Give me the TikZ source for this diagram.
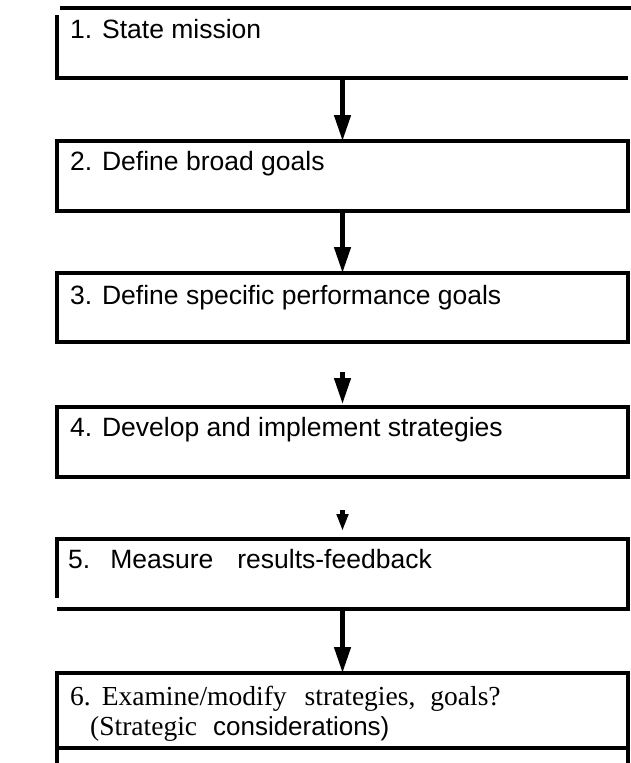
\documentclass[tikz,border=0pt]{standalone}
\usepackage{fontspec}
\setmainfont{Liberation Serif}
\setsansfont{Liberation Sans}
\usetikzlibrary{arrows.meta, positioning}

\tikzset{
    stage/.style = {rectangle, draw, line width=4pt, minimum width=571pt, minimum height=70pt, inner sep=0pt, outer sep=0pt},
    boxline/.style = {line width=4pt},
    stagetext/.style = {anchor=base west, inner sep=0pt, font=\sffamily\fontsize{26.5}{30}\selectfont},
    flow/.style = {line width=4.5pt, -{Triangle[length=26pt, width=16pt]}},
    shortflow/.style = {line width=4.5pt, -{Triangle[length=17pt, width=11pt]}}
}

\begin{document}
\begin{tikzpicture}[x=1pt, y=-1pt]
            \useasboundingbox (0,0) rectangle (631,763);

            \node (s1) [stage, draw=none, anchor=north west] at (57,8) {};
            \node (s2) [stage, below=63pt of s1] {};
            \node (s3) [stage, below=62pt of s2, minimum height=69pt] {};
            \node (s4) [stage, below=65pt of s3] {};
            \node (s5) [stage, draw=none, below=62pt of s4] {};
            \node (s6) [stage, below=64pt of s5, minimum height=75pt] {};

            \draw [boxline] ([xshift=3pt]s1.north west) -- ([xshift=3pt]s1.north east);
            \draw [boxline] ([yshift=-7pt]s1.north west) -- (s1.south west) -- (s1.south east);
            \draw [boxline] ([yshift=11pt]s5.south west) -- (s5.north west) -- (s5.north east)
                -- (s5.south east) -- (s5.south west);
            \draw [boxline] (s6.south west) -- ++(0,20);
            \draw [boxline] (s6.south east) -- ++(0,20);

            \node (t1) [stagetext] at ([shift={(13,30)}]s1.north west) {1. State mission};
            \node (t2) [stagetext] at ([shift={(13,29)}]s2.north west) {2. Define broad goals};
            \node (t3) [stagetext] at ([shift={(13,31)}]s3.north west) {3. Define specific performance goals};
            \node (t4) [stagetext] at ([shift={(13,29)}]s4.north west) {4. Develop and implement strategies};
            \node (t5) [stagetext] at ([shift={(11,29)}]s5.north west) {5.\hspace{20pt}Measure\hspace{24pt}results-feedback};
            \node (t6) [stagetext, font=\fontsize{27.5}{30}\selectfont] at ([shift={(13,32)}]s6.north west)
                {6.\hspace{11pt}Examine/modify\hspace{18pt}strategies,\hspace{15pt}goals?};
            \node (t7) [stagetext, font=\fontsize{27.5}{30}\selectfont] at ([shift={(33,62)}]s6.north west)
                {(Strategic\hspace{16pt}{\sffamily\fontsize{26}{30}\selectfont considerations)}};

            \coordinate (a3) at ([yshift=-30pt]s3.south);
            \coordinate (h3) at ([yshift=3pt]s4.north);
            \coordinate (a4) at ([yshift=-33pt]s4.south);
            \coordinate (h4) at ([yshift=8pt]s5.north);

            \path[flow]
            (s1) edge (s2)
            (s2) edge (s3)
            (a3) edge (h3)
            (a4) edge [shortflow] (h4)
            (s5) edge (s6);
        \end{tikzpicture}
\end{document}
